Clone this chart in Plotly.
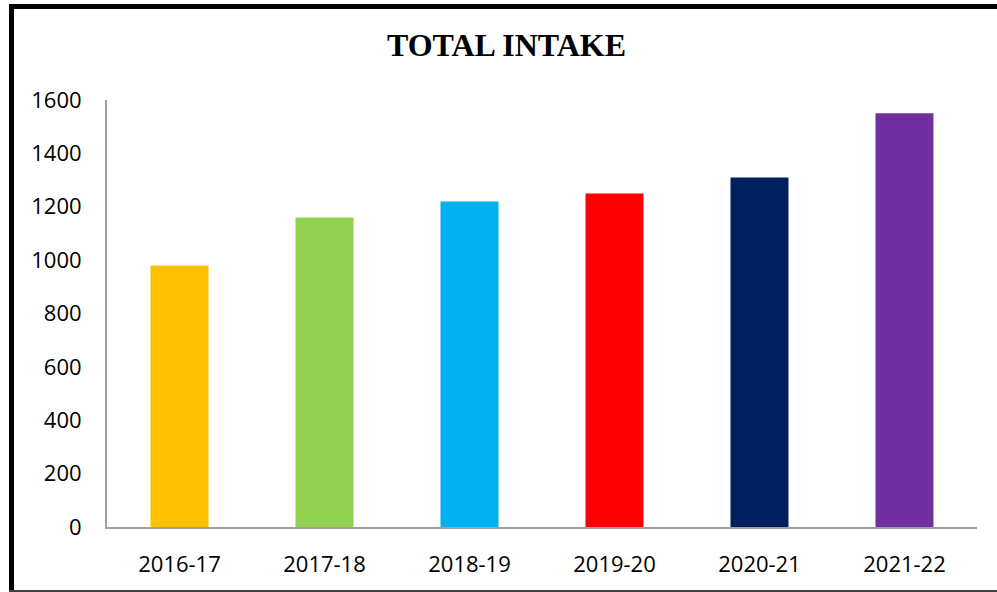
"""Total intake bar chart."""

import plotly.graph_objects as go

# === Data ===
YEARS = ["2016-17", "2017-18", "2018-19", "2019-20", "2020-21", "2021-22"]
INTAKE = [980, 1160, 1220, 1250, 1310, 1550]
BAR_COLORS = ["#FFC000", "#92D050", "#00B0F0", "#FF0000", "#002060", "#7030A0"]
Y_TICKS = [0, 200, 400, 600, 800, 1000, 1200, 1400, 1600]

W, H = 997, 592
L, R, T, B = 107, 20, 100, 65
PW, PH = W - L - R, H - T - B


def px_x(x):
    return (x - L) / PW


def px_y(y):
    return (H - B - y) / PH


fig = go.Figure()

fig.add_trace(go.Bar(
    x=YEARS,
    y=INTAKE,
    marker=dict(color=BAR_COLORS, line=dict(width=0)),
    width=0.4,
    hovertemplate="<b>%{x}</b><br>%{y}<extra></extra>",
))

# outer frame (left, top thick; bottom thin)
fig.add_shape(type="line", xref="paper", yref="paper",
              x0=px_x(11.5), x1=px_x(11.5), y0=px_y(592), y1=px_y(4),
              line=dict(color="#000000", width=5))
fig.add_shape(type="line", xref="paper", yref="paper",
              x0=px_x(9), x1=px_x(1000), y0=px_y(6.5), y1=px_y(6.5),
              line=dict(color="#000000", width=5))
fig.add_shape(type="line", xref="paper", yref="paper",
              x0=px_x(9), x1=px_x(1000), y0=px_y(591), y1=px_y(591),
              line=dict(color="#404040", width=2))

fig.update_layout(
    width=W,
    height=H,
    title=dict(
        text="<b>TOTAL INTAKE</b>",
        x=0.508,
        xanchor="center",
        y=1 - 45 / H,
        yanchor="middle",
        font=dict(family="Liberation Serif", size=32, color="#000000"),
    ),
    xaxis=dict(
        showline=True,
        linecolor="#a0a0a0",
        linewidth=2,
        showgrid=False,
        ticks="",
        ticklabelstandoff=17,
        tickfont=dict(family="Open Sans", size=22, color="#000000"),
        fixedrange=True,
    ),
    yaxis=dict(
        range=[0, 1600],
        tickvals=Y_TICKS,
        showline=True,
        linecolor="#a0a0a0",
        linewidth=2,
        showgrid=False,
        zeroline=False,
        ticks="",
        ticklabelstandoff=19,
        tickfont=dict(family="Open Sans", size=22, color="#000000"),
    ),
    showlegend=False,
    bargap=0.6,
    plot_bgcolor="#ffffff",
    paper_bgcolor="#ffffff",
    margin=dict(l=L, r=R, t=T, b=B, autoexpand=False),
)

fig.write_html(
    "out.html",
    config={"displayModeBar": False},
    post_script="document.body.style.margin='0';",
)
